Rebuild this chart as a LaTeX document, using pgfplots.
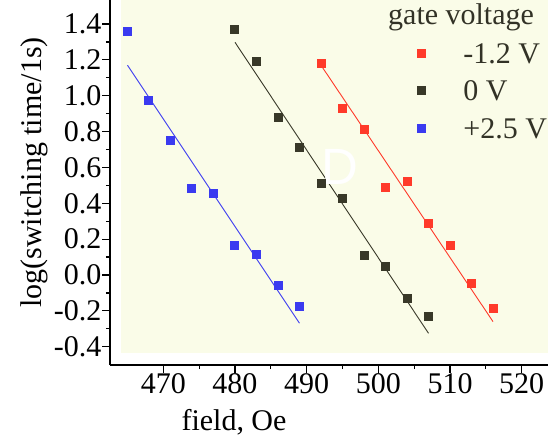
\documentclass[border=0pt]{standalone}
\usepackage{fontspec}
\setmainfont{Liberation Serif}
\newfontfamily\dfont{Liberation Sans}
\usepackage{pgfplots}
\pgfplotsset{compat=1.18}
\definecolor{bgc}{RGB}{250,252,232}
\definecolor{cred}{RGB}{255,58,42}
\definecolor{cblk}{RGB}{56,56,40}
\definecolor{cblu}{RGB}{58,58,240}
\definecolor{ltext}{RGB}{50,50,38}
\begin{document}
\begin{tikzpicture}
\begin{axis}[
  name=ax,
  scale only axis,
  width=438bp, height=365bp,
  xmin=462.56, xmax=523.67,
  ymin=-0.502, ymax=1.534,
  axis x line=bottom, axis y line=left,
  axis line style={-, line width=1.3bp, black},
  xtick={470,480,...,520},
  ytick={-0.4,-0.2,...,1.41},
  minor x tick num=1, minor y tick num=1,
  tick align=outside,
  major tick length=7.5bp, minor tick length=4bp,
  every tick/.style={black, line width=1.2bp},
  tick label style={font=\fontsize{30bp}{36bp}\selectfont, inner sep=1bp},
  /pgf/number format/assume math mode=true,
  yticklabel style={/pgf/number format/.cd, fixed, fixed zerofill, precision=1},
  xticklabel style={/pgf/number format/.cd, fixed, precision=0, 1000 sep={}},
  xlabel={field, Oe},
  ylabel={log(switching time/1s)},
  label style={font=\fontsize{30bp}{36bp}\selectfont},
  xlabel style={at={(rel axis cs:0.2831,-0.1808)}, anchor=base},
  ylabel style={at={(rel axis cs:-0.1575,0.5274)}, anchor=base},
  clip=false,
  legend style={draw=none, fill=none, at={(rel axis cs:0.7009,0.8868)}, anchor=north west,
    inner sep=0pt, outer sep=0pt, row sep=15.2bp, column sep=0pt,
    font=\fontsize{30bp}{36bp}\selectfont, text=ltext,
    cells={anchor=base west},
    nodes={inner sep=0pt, text height=22bp, text depth=0bp}},
  legend image code/.code={\draw[#1] plot coordinates {(0bp,10bp)}; \path (-4bp,0bp) (42bp,0bp);},
]
\fill[bgc] (rel axis cs:0.0251,0.0334) rectangle (rel axis cs:1,1);

\addplot[only marks, mark=square*, mark size=4bp, color=cred, mark options={draw=cred, fill=cred, line width=0pt}] coordinates {
(492,1.181) (495,0.928) (498,0.813) (501,0.487) (504,0.521) (507,0.285) (510,0.162) (513,-0.050) (516,-0.188)};
\addlegendentry{-1.2 V}
\addplot[only marks, mark=square*, mark size=4bp, color=cblk, mark options={draw=cblk, fill=cblk, line width=0pt}] coordinates {
(480,1.372) (483,1.190) (486,0.880) (489,0.710) (492,0.508) (495,0.425) (498,0.110) (501,0.045) (504,-0.130) (507,-0.232)};
\addlegendentry{0 V}
\addplot[only marks, mark=square*, mark size=4bp, color=cblu, mark options={draw=cblu, fill=cblu, line width=0pt}] coordinates {
(465,1.361) (468,0.971) (471,0.749) (474,0.480) (477,0.457) (480,0.164) (483,0.116) (486,-0.059) (489,-0.178)};
\addlegendentry{+2.5 V}

\addplot[cred, line width=0.9bp, forget plot] coordinates {(492,1.17) (516,-0.26)};
\addplot[cblk, line width=0.9bp, forget plot] coordinates {(480,1.298) (507,-0.325)};
\addplot[cblu, line width=0.9bp, forget plot] coordinates {(465,1.170) (489,-0.269)};

\node[anchor=center, inner sep=0pt, text=white, font=\dfont\fontsize{51bp}{55bp}\selectfont] at (rel axis cs:0.5251,0.5433) {D};
\node[anchor=base west, inner sep=0pt, text=ltext, font=\fontsize{30bp}{36bp}\selectfont] at (rel axis cs:0.6347,0.9315) {gate voltage};
\end{axis}
\pgfresetboundingbox
\path[use as bounding box] ([shift={(-110bp,-71bp)}]ax.south west) rectangle ([shift={(438bp,365bp)}]ax.south west);
\end{tikzpicture}
\end{document}
